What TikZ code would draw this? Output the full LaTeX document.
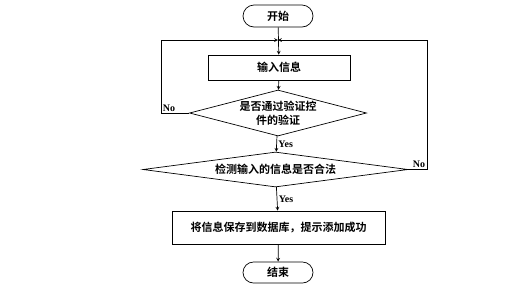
\documentclass[tikz,border=0pt]{standalone}
\usepackage{fontspec}
\setmainfont{Liberation Serif}
\newfontfamily\cjk{Noto Sans CJK SC}[BoldFont={* Bold}]
\usetikzlibrary{shapes.geometric, shapes.misc}

\begin{document}
\begin{tikzpicture}[>=stealth, x=1pt, y=-1pt, line width=0.7pt,
    every node/.style={font=\fontsize{11}{13.5}\selectfont\cjk\bfseries},
    terminal/.style={draw, rounded rectangle, minimum width=70pt, minimum height=22pt, inner sep=0pt},
    process/.style={draw, rectangle, minimum height=25pt, inner sep=0pt},
    decision/.style={draw, diamond, inner sep=0pt},
    lbl/.style={font=\fontsize{10}{12}\selectfont\rmfamily\bfseries, inner sep=1.5pt}]
    \useasboundingbox (0,0) rectangle (527,293);

    % nodes
    \node[terminal] (start) at (278,16) {开始};
    \coordinate (join) at (278,40);
    \node[process, minimum width=142pt] (input) at (279,67.5) {输入信息};
    \node[decision, minimum width=177pt, minimum height=46pt, shape aspect=3.85, align=center] (check1) at (278,113) {是否通过验证控\\件的验证};
    \node[decision, minimum width=265pt, minimum height=35pt, shape aspect=7.5] (check2) at (275.5,169.5) {检测输入的信息是否合法};
    \node[process, minimum width=213pt, minimum height=33pt] (save) at (278.5,227.5) {将信息保存到数据库，提示添加成功};
    \node[terminal, minimum height=21pt] (stop) at (278,272.5) {结束};

    % main flow
    \draw[->] (start) -- (input);
    \draw[->] (input) -- (check1);
    \draw[->] (check1) -- node[lbl, right] {Yes} (check2);
    \draw[->] (check2) -- node[lbl, right] {Yes} (save);
    \draw[->] (save) -- (stop);

    % loops back
    \draw[->] (check1.west) -- (161,113) node[lbl, above right] {No} |- (join);
    \draw[->] (check2.east) -- (427,169.5) node[lbl, above left] {No} |- (join);
\end{tikzpicture}
\end{document}
